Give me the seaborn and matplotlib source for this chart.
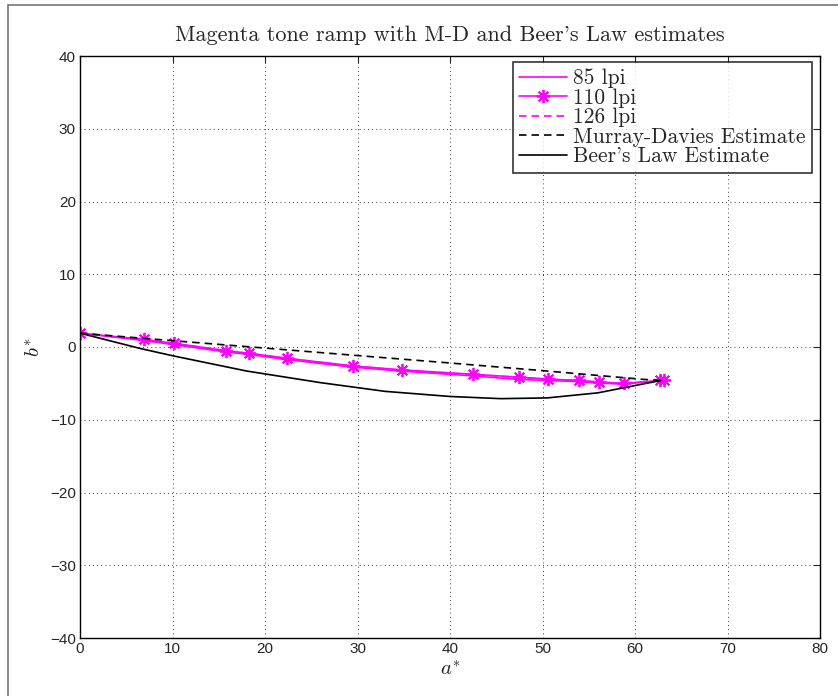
import matplotlib
matplotlib.use('Agg')
import matplotlib.pyplot as plt
from matplotlib.patches import Rectangle
import seaborn as sns
import pandas as pd

# a*, b* values
a_110 = [0.0, 6.9, 10.2, 15.8, 18.3, 22.4, 29.5, 34.8, 42.5, 47.5, 50.6, 53.9, 56.1, 58.8, 62.7, 63.1]
b_110 = [1.9, 1.05, 0.5, -0.5, -0.87, -1.55, -2.6, -3.15, -3.75, -4.15, -4.4, -4.6, -4.8, -5.0, -4.6, -4.55]

a_85 = [0.0, 6.8, 10.0, 15.6, 18.1, 22.2, 29.3, 34.6, 42.3, 47.3, 50.4, 53.7, 56.0, 58.7, 62.6]
b_85 = [1.9, 0.9, 0.35, -0.65, -1.0, -1.7, -2.75, -3.3, -3.95, -4.45, -4.6, -4.75, -4.95, -5.1, -4.65]

a_126 = [0.0, 7.0, 10.3, 15.9, 18.4, 22.5, 29.6, 34.9, 42.6, 47.6, 50.7, 54.0, 56.2, 58.9, 62.9]
b_126 = [1.9, 1.0, 0.45, -0.55, -0.9, -1.6, -2.65, -3.2, -3.8, -4.2, -4.45, -4.65, -4.85, -5.05, -4.6]

a_md = [0.0, 10.0, 20.0, 27.8, 40.0, 50.0, 60.9, 62.8]
b_md = [1.9, 0.87, -0.15, -0.95, -2.2, -3.25, -4.45, -4.6]

a_beer = [0.0, 6.5, 10.0, 18.0, 26.0, 33.0, 40.0, 45.5, 50.5, 56.0, 62.8]
b_beer = [1.9, -0.2, -1.2, -3.3, -4.9, -6.1, -6.8, -7.1, -7.0, -6.3, -4.6]

sns.set_style('white')
plt.rcParams['mathtext.fontset'] = 'cm'
plt.rcParams['axes.unicode_minus'] = True

fig = plt.figure(figsize=(8.38, 6.96), dpi=100)
ax = fig.add_axes([80 / 838, 58 / 696, 740 / 838, 582 / 696])

magenta = '#ff00ff'
dash = (0, (4.5, 3))
sns.lineplot(x=a_85, y=b_85, ax=ax, color=magenta, lw=1.2, sort=False, label='85 lpi')
sns.lineplot(x=a_110, y=b_110, ax=ax, color=magenta, lw=1.2, sort=False, marker=(8, 2, 0),
             markersize=9.5, markeredgewidth=1.3, markeredgecolor=magenta, label='110 lpi')
sns.lineplot(x=a_126, y=b_126, ax=ax, color=magenta, lw=1.2, sort=False, linestyle=dash,
             label='126 lpi')
sns.lineplot(x=a_md, y=b_md, ax=ax, color='black', lw=1.2, sort=False, linestyle=dash,
             label='Murray-Davies Estimate')
sns.lineplot(x=a_beer, y=b_beer, ax=ax, color='black', lw=1.2, sort=False,
             label="Beer's Law Estimate")

ax.set_xlim(0, 80)
ax.set_ylim(-40, 40)
ax.set_xticks(range(0, 81, 10))
ax.set_yticks(range(-40, 41, 10))
ax.grid(True, color='black', linestyle=(0, (1, 4)), lw=0.6)
ax.tick_params(direction='in', top=True, right=True, length=5, width=0.8,
               labelsize=11, pad=3)
for lab in ax.get_xticklabels() + ax.get_yticklabels():
    lab.set_fontfamily('Liberation Sans')
for sp in ax.spines.values():
    sp.set_color('black')
    sp.set_linewidth(1.0)

ax.set_xlabel('$a^{*}$', fontsize=15, labelpad=2)
ax.set_ylabel('$b^{*}$', fontsize=15, labelpad=4)
ax.set_title("Magenta tone ramp with M-D and Beer's Law estimates", fontsize=16,
             fontfamily='cmr10', pad=11)

leg = ax.legend(loc='upper right', bbox_to_anchor=(0.9893, 0.9895), frameon=True, fancybox=False,
                prop={'family': 'cmr10', 'size': 15.5}, borderpad=0.3,
                labelspacing=0.0, handlelength=2.2, handletextpad=0.3, borderaxespad=0)
leg.get_frame().set_edgecolor('black')
leg.get_frame().set_linewidth(1.2)

fig.patches.append(Rectangle((8 / 838, -0.1), 1.2, 1.1 - 5 / 696, transform=fig.transFigure,
                             fill=False, edgecolor='#777777', lw=1.2))

fig.savefig('out.png', dpi=100)
